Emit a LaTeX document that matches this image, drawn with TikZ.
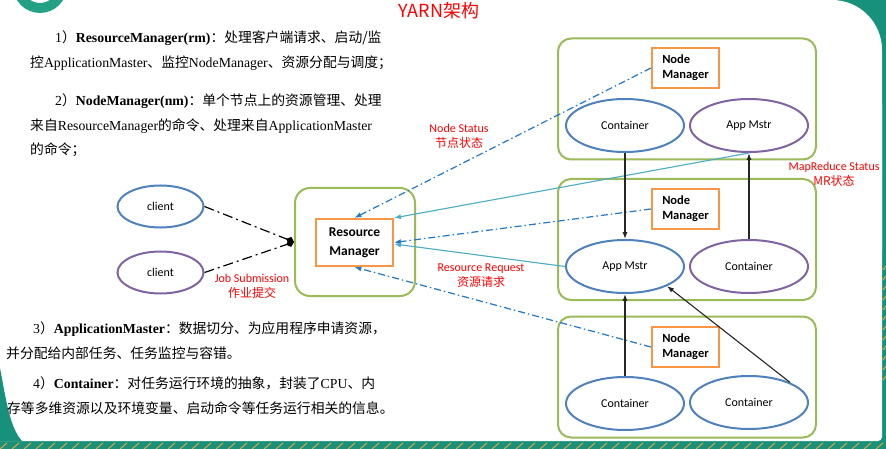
\documentclass[tikz,border=0pt]{standalone}
\usepackage{fontspec}
\setmainfont{Liberation Serif}
\newfontfamily\zhfont{Noto Sans CJK SC}
\newfontfamily\cbfont{Carlito}
\usetikzlibrary{arrows.meta,positioning,shapes.geometric}
\definecolor{grn}{HTML}{9BBB59}
\definecolor{org}{HTML}{F79646}
\definecolor{blu}{HTML}{4F81BD}
\definecolor{pur}{HTML}{8064A2}
\definecolor{cyn}{HTML}{4BACC6}
\definecolor{dsh}{HTML}{1F78C8}
\definecolor{frame}{HTML}{17917C}
\definecolor{logo}{HTML}{24A084}
\definecolor{hatch}{HTML}{E8A33A}
\newcommand{\zh}[1]{{\zhfont #1}}
\tikzset{
  para/.style={anchor=west,inner sep=0pt,font=\fontsize{13.8}{16}\selectfont},
  grp/.style={draw=grn,line width=2pt,rounded corners=13pt,
    minimum width=258pt,minimum height=121pt},
  nm/.style={draw=org,line width=2.2pt,fill=white,inner sep=0pt,align=left,
    minimum width=67pt,minimum height=40pt,font=\cbfont\bfseries\fontsize{12.5}{15}\selectfont},
  ell/.style={ellipse,draw=blu,line width=2pt,inner sep=0pt,fill=white,
    minimum width=118pt,minimum height=53pt,font=\cbfont\fontsize{12}{14}\selectfont},
  ellp/.style={ell,draw=pur},
  cli/.style={ell,minimum width=86pt,minimum height=42pt},
  lbl/.style={text=red,inner sep=0pt,align=center,font=\cbfont\fontsize{12}{15}\selectfont},
  % connectors
  stat/.style={draw=dsh,line width=1.2pt,dash pattern=on 7pt off 3pt on 1.5pt off 3pt,
    -{Latex[length=2.4mm,width=1.8mm]}},
  req/.style={draw=cyn,line width=1.1pt,-{Latex[length=2.4mm,width=1.8mm]}},
  ctl/.style={draw=black!85,line width=1.4pt,-{Latex[length=2.4mm,width=1.8mm]}},
  sub/.style={draw=black,line width=1.2pt,dash pattern=on 10pt off 4pt on 2pt off 4pt,
    -{Diamond[length=3mm,width=2.6mm]}},
}
\begin{document}
\begin{tikzpicture}[x=1pt,y=-1pt]
  \useasboundingbox (0,0) rectangle (886,449);
  % slide frame
  \fill[frame] (0,0) rectangle (886,449);
  \fill[white,rounded corners=50pt] (-100,0) rectangle (882,300);
  \fill[white,rounded corners=4pt] (-100,100) rectangle (882,441);
  \fill[frame] (0,368) .. controls (6,400) and (10,428) .. (22,441) -- (0,441) -- cycle;
  \foreach \x in {0,12,...,880}
    \draw[hatch,line width=1pt] (\x,449) -- (\x+7,443);
  \foreach \y in {270,280,...,380}
    \draw[hatch,line width=1pt] (883,\y) -- (886,\y-4);
  \fill[logo,even odd rule] (40,-14) circle (27pt) (40,-14) circle (17pt);

  \node[text=red,inner sep=0pt,font=\zhfont\fontsize{18}{20}\selectfont] (title) at (439,11) {YARN架构};

  % left text
  \node[para] (t1) at (55,38.5) {1\zh{）}\textbf{ResourceManager(rm)}\zh{：处理客户端请求、启动/监}};
  \node[para] (t2) at (30,63.5) {\zh{控}ApplicationMaster\zh{、监控}NodeManager\zh{、资源分配与调度；}};
  \node[para] (t3) at (55,101) {2\zh{）}\textbf{NodeManager(nm)}\zh{：单个节点上的资源管理、处理}};
  \node[para] (t4) at (30,126) {\zh{来自}ResourceManager\zh{的命令、处理来自}ApplicationMaster};
  \node[para] (t5) at (30,150) {\zh{的命令；}};
  \node[para] (t6) at (33,329) {3\zh{）}\textbf{ApplicationMaster}\zh{：数据切分、为应用程序申请资源，}};
  \node[para] (t7) at (6,353) {\zh{并分配给内部任务、任务监控与容错。}};
  \node[para] (t8) at (33,383) {4\zh{）}\textbf{Container}\zh{：对任务运行环境的抽象，封装了}CPU\zh{、内}};
  \node[para] (t9) at (7,408) {\zh{存等多维资源以及环境变量、启动命令等任务运行相关的信息。}};

  % clients and resource manager
  \node[cli] (cl1) at (160.5,206.5) {client};
  \node[cli,draw=pur] (cl2) at (160.5,272.5) {client};
  \node[grp,rounded corners=15pt,minimum width=120pt,minimum height=108pt] (rmgrp) at (355,242) {};
  \node[nm,align=center,minimum width=77pt,minimum height=47pt,
    font=\cbfont\bfseries\fontsize{13.5}{19}\selectfont] (rm) at (354.5,242.5) {Resource\\Manager};

  % node groups
  \node[grp] (g1) at (687,99) {};
  \node[grp] (g2) at (687,239.5) {};
  \node[grp] (g3) at (687,377) {};
  \node[nm] (nm1) at (685.5,68) {Node\\Manager};
  \node[nm] (nm2) at (685.5,209) {Node\\Manager};
  \node[nm] (nm3) at (685.5,347) {Node\\Manager};
  \node[ell] (c1) at (625,125.5) {Container};
  \node[ellp] (am1) at (749,125.5) {App Mstr};
  \node[ell] (am2) at (625,266.5) {App Mstr};
  \node[ellp] (c2) at (749,266.5) {Container};
  \node[ell] (c3) at (625,403.5) {Container};
  \node[ell] (c4) at (749,402.5) {Container};

  % labels
  \node[lbl] (lbjob) at (252,286.5) {Job Submission\\\zh{作业提交}};
  \node[lbl] (lbns) at (459,136.5) {Node Status\\\zh{节点状态}};
  \node[lbl] (lbrr) at (481,276) {Resource Request\\\zh{资源请求}};
  \node[lbl] (lbmr) at (834,174) {MapReduce Status\\\zh{MR状态}};

  % connectors
  \draw[sub] (cl1.east) -- (rmgrp.west);
  \draw[sub] (cl2.east) -- (rmgrp.west);
  \draw[stat] (nm1.west) -- (rm.north);
  \draw[stat] (nm2.west) -- (rm.east);
  \draw[stat] (nm3.west) -- (rm.south);
  \draw[req] (am1.south) -- (rm.north east);
  \draw[req] (am2.west) -- ([yshift=-1.5pt]rm.east);
  \draw[ctl] (c1.south) -- (am2.north);
  \draw[ctl] (c2.north) -- (am1.south);
  \draw[ctl] (c3.north) -- (am2.south);
  \draw[ctl,line width=1.1pt] (c4.26) -- (am2.335);
\end{tikzpicture}
\end{document}
